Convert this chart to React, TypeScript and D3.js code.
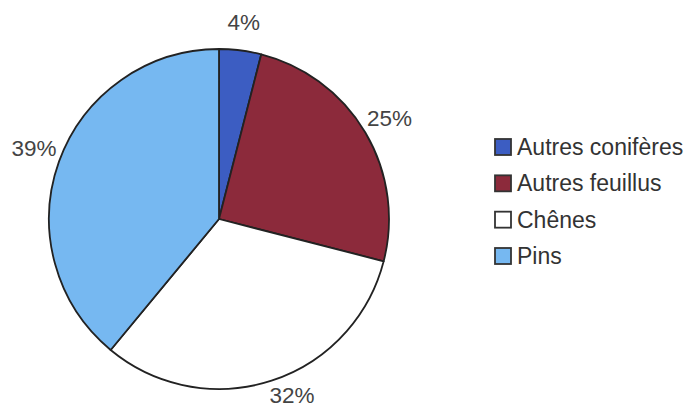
import React from "react";
import * as d3 from "d3";

const categories = ["Autres conifères", "Autres feuillus", "Chênes", "Pins"];
const values = [4, 25, 32, 39];
const labels = ["4%", "25%", "32%", "39%"];
const colors = ["#3c5dc2", "#8c2a3b", "#ffffff", "#76b8f1"];
const labelNudgeDeg = [0, 0, -4.5, 1];
const labelRadii = [198, 198, 191, 198];

const W = 688;
const H = 410;
const cx = 219;
const cy = 219;
const R = 170;

export default function App() {
  const pie = d3.pie<number>().sort(null).value((d) => d)(values);
  const arc = d3.arc<d3.PieArcDatum<number>>().innerRadius(0).outerRadius(R);
  const legendY = d3
    .scalePoint<string>()
    .domain(categories)
    .range([147, 256]);
  return (
    <svg
      width={W}
      height={H}
      style={{ position: "absolute", left: 0, top: 0, background: "#fff" }}
      fontFamily="'Liberation Sans', Arial, sans-serif"
    >
      <g transform={`translate(${cx},${cy})`}>
        {pie.map((p, i) => (
          <path
            key={i}
            d={arc(p) || ""}
            fill={colors[i]}
            stroke="#222"
            strokeWidth={1.8}
            strokeLinejoin="round"
          />
        ))}
        {pie.map((p, i) => {
          const mid = (p.startAngle + p.endAngle) / 2 + (labelNudgeDeg[i] * Math.PI) / 180;
          const [x, y] = d3.pointRadial(mid, labelRadii[i]);
          return (
            <text
              key={i}
              x={x}
              y={y}
              textAnchor="middle"
              dominantBaseline="central"
              fontSize={22.5}
              fill="#444"
            >
              {labels[i]}
            </text>
          );
        })}
      </g>
      {categories.map((c, i) => {
        const y = legendY(c) as number;
        return (
          <g key={c}>
            <rect
              x={495}
              y={y - 8}
              width={16}
              height={16}
              fill={colors[i]}
              stroke="#333"
              strokeWidth={1.8}
            />
            <text
              x={517}
              y={y}
              dominantBaseline="central"
              fontSize={23}
              fill="#333"
            >
              {c}
            </text>
          </g>
        );
      })}
    </svg>
  );
}
